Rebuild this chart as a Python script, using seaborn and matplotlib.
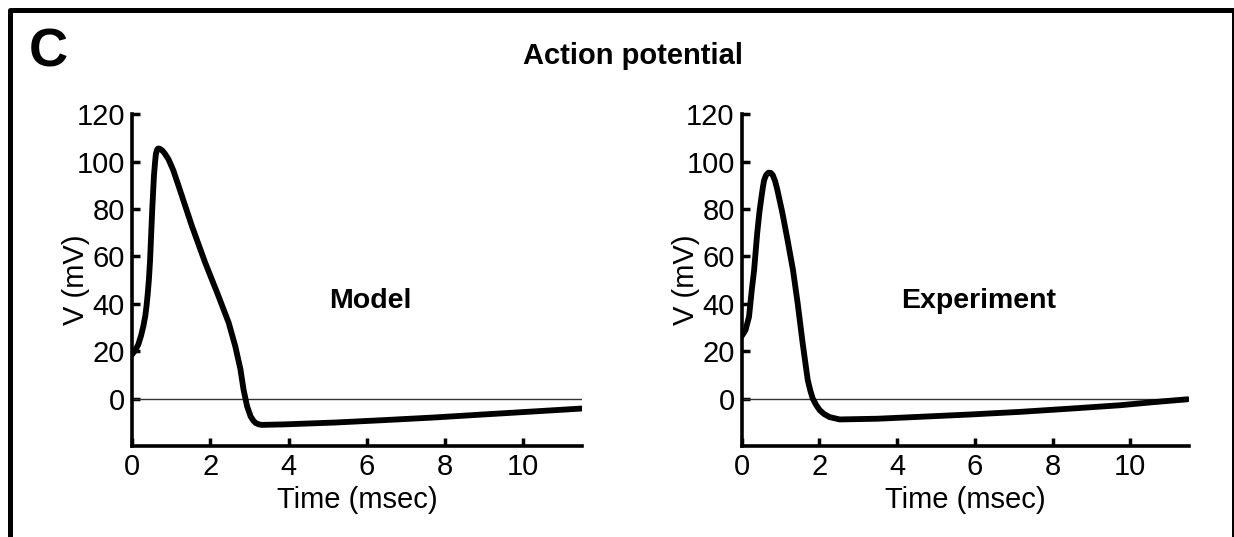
import numpy as np
import pandas as pd
import matplotlib
matplotlib.use("Agg")
import matplotlib.pyplot as plt
from matplotlib.lines import Line2D
import seaborn as sns

# values
model_t = [0, 0.08, 0.16, 0.23, 0.29, 0.34, 0.37, 0.40, 0.43, 0.46, 0.48, 0.50, 0.52,
           0.56, 0.59, 0.61, 0.64, 0.67, 0.72, 0.78, 0.84, 0.93, 1.05,
           1.19, 1.53, 1.87, 2.21, 2.47, 2.64, 2.77, 2.85, 2.94, 3.03, 3.10, 3.16,
           3.24, 3.32, 3.87, 5.2, 6.43, 7.7, 8.99, 10.3, 11.5]
model_v = [18.6, 20.3, 22.8, 26.5, 30.6, 35, 39, 44, 50, 58, 65.8, 73.5, 81,
           94, 100, 103.2, 105, 105.5, 105.3, 104.5, 103.3, 101, 96.5,
           89.7, 72.8, 57.3, 43.2, 32, 22, 12.4, 3.8, -3.2, -7.5, -9.3, -10.3,
           -10.9, -11.1, -10.9, -10.1, -9.1, -8.0, -6.7, -5.4, -4.2]

exp_t = [0, 0.1, 0.19, 0.26, 0.32, 0.4, 0.46, 0.51, 0.55, 0.58, 0.63, 0.69, 0.75,
         0.8, 0.86, 0.92, 1.05, 1.18, 1.32, 1.44, 1.57, 1.7, 1.77, 1.83, 1.92,
         2.01, 2.12, 2.26, 2.52, 2.86, 3.5, 4.58, 5.9, 7.17, 8.5, 9.75, 10.6, 11.47]
exp_v = [26.3, 28.9, 34.5, 45.7, 54, 69.7, 79, 85, 89.5, 92.2, 94.3, 95.3, 95.2,
         94.3, 91.8, 88, 78.2, 67, 54.4, 40.4, 23.4, 7.9, 3.2, 0, -2.8,
         -4.9, -6.5, -7.8, -8.8, -8.7, -8.5, -7.7, -6.7, -5.6, -4.2, -2.8, -1.5, -0.3]

x_ticks = [0, 2, 4, 6, 8, 10]
y_ticks = [0, 20, 40, 60, 80, 100, 120]

panels = [("Model", model_t, model_v), ("Experiment", exp_t, exp_v)]
axes_pos = [[0.107, 0.1695, 0.3646, 0.618], [0.601, 0.1695, 0.3622, 0.618]]

sns.set_style("ticks")
plt.rcParams['font.family'] = ['Liberation Sans', 'DejaVu Sans']
plt.rcParams['text.color'] = 'black'
plt.rcParams['axes.labelcolor'] = 'black'

fig = plt.figure(figsize=(12.34, 5.37), dpi=100)

for pos, (name, t, v) in zip(axes_pos, panels):
    ax = fig.add_axes(pos)
    df = pd.DataFrame({"t": t, "v": v})
    ax.axhline(0, color="#333333", lw=1, zorder=1)
    sns.lineplot(data=df, x="t", y="v", ax=ax, color="black", lw=4.2,
                 estimator=None, sort=False, solid_capstyle="round",
                 solid_joinstyle="round", zorder=3)
    ax.set_xlim(0, 11.5)
    ax.set_ylim(-20, 120)
    ax.set_xticks(x_ticks)
    ax.set_yticks(y_ticks)
    ax.tick_params(direction="in", length=6, width=2.5, labelsize=21, pad=5,
                   colors="black")
    sns.despine(ax=ax)
    for s in ["left", "bottom"]:
        ax.spines[s].set_linewidth(2.6)
        ax.spines[s].set_color("black")
    ax.set_xlabel("Time (msec)", fontsize=21, labelpad=4)
    ax.set_ylabel("V (mV)", fontsize=21)
    ax.yaxis.set_label_coords(-0.093, 0.5)
    ax.text(6.1, 41, name, ha="center", va="center", fontsize=20.5,
            fontweight="bold")

fig.text(0.513, 0.895, "Action potential", ha="center", va="center",
         fontsize=21, fontweight="bold")
fig.text(0.039, 0.903, "C", ha="center", va="center", fontsize=39,
         fontweight="bold")

# open-bottom frame around the panel
fig.add_artist(Line2D([0.0077, 0.0077, 0.9996, 0.9996], [0.0, 0.9823, 0.9823, 0.0],
                      transform=fig.transFigure, color="black", lw=3.6))

fig.savefig("out.png", dpi=100)
